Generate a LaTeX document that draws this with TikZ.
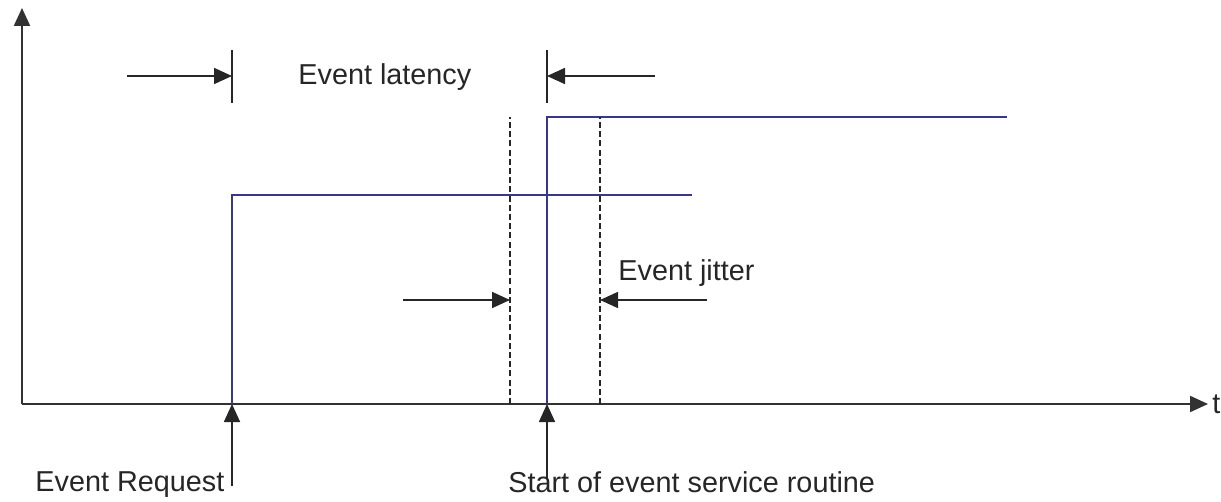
\documentclass[tikz,border=0pt]{standalone}
\usepackage{fontspec}
\setmainfont{Liberation Sans}
\usetikzlibrary{arrows.meta}

\definecolor{pulseblue}{RGB}{55,55,140}
\definecolor{axisgray}{RGB}{50,50,50}

\tikzset{
  axis/.style={draw=axisgray, line width=1.1pt},
  pulse/.style={draw=pulseblue, line width=0.8pt},
  marker/.style={draw=black!85, line width=0.85pt},
  guide/.style={draw=black!85, line width=0.7pt, dash pattern=on 3pt off 1.6pt},
  tip/.style={-{Triangle[length=9pt,width=8pt]}},
  lbl/.style={font=\fontsize{14.4}{16}\selectfont, text=black!85, inner sep=0pt, anchor=base west},
}

\begin{document}
\begin{tikzpicture}[x=0.5pt, y=-0.5pt]
\useasboundingbox (0,0) rectangle (1221,502);

% axes
\coordinate (O) at (22,404);
\coordinate (ytop) at (22,8);
\coordinate (xend) at (1208,404);
\draw[axis, tip] (O) -- (ytop);
\draw[axis, tip] (O) -- (xend);
\node[lbl] (t) at (1212,413) {t};

% request and service pulses
\coordinate (req) at (232,404);
\coordinate (isr) at (547,404);
\draw[pulse] (req) -- (232,195) -- (692,195);
\draw[pulse] (isr) -- (547,117) -- (1007,117);

% jitter window
\coordinate (jl) at (510,404);
\coordinate (jr) at (600,404);
\draw[guide] (jl) -- (510,117);
\draw[guide] (jr) -- (600,117);

% latency markers
\node[lbl] (latency) at (298,85) {Event latency};
\foreach \x in {232, 547}
  \draw[marker] (\x,50) -- (\x,103);
\draw[marker, tip] (127,76) -- (232,76);
\draw[marker, tip] (655,76) -- (547,76);

% jitter markers
\node[lbl] (jitter) at (618,281) {Event jitter};
\draw[marker, tip] (403,300) -- (510,300);
\draw[marker, tip] (707,300) -- (600,300);

% event labels
\node[lbl] (reqlbl) at (35,491) {Event Request};
\node[lbl] (isrlbl) at (508,492) {Start of event service routine};
\draw[marker, tip] (232,486) -- (req);
\draw[marker, tip] (547,478) -- (isr);
\end{tikzpicture}
\end{document}
